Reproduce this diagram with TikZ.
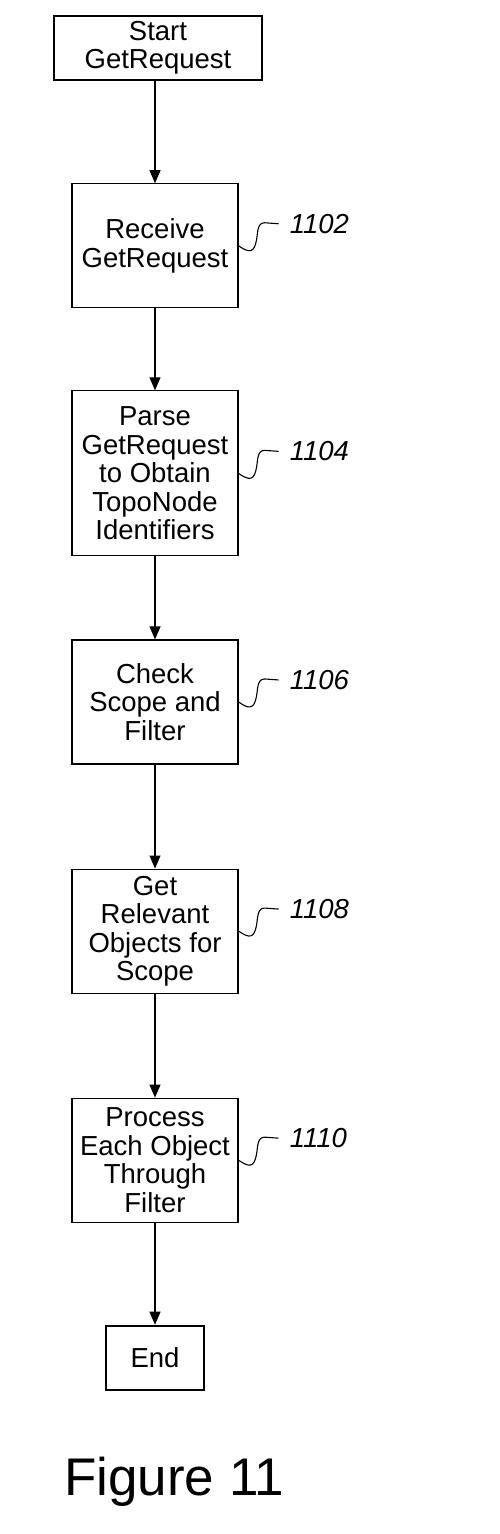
\documentclass[tikz,border=0pt]{standalone}
\usepackage{fontspec}
\setmainfont{Liberation Sans}
\usetikzlibrary{arrows.meta,positioning}

\begin{document}
\begin{tikzpicture}[
  x=1pt, y=1pt,
  node distance=102pt,
  stepbox/.style={draw, line width=1.1pt, minimum width=166pt, minimum height=124pt, align=center, font=\fontsize{27.5}{28.5}\selectfont, inner sep=2pt},
  termbox/.style={draw, line width=2.4pt, minimum height=64pt, align=center, font=\fontsize{27.5}{28}\selectfont, inner sep=2pt},
  refno/.style={font=\fontsize{27.5}{28}\selectfont\itshape, inner sep=0pt, anchor=west},
  flow/.style={-{Triangle[length=13pt,width=11pt]}, line width=1.1pt},
  squig/.style={line width=1.1pt}
]
\useasboundingbox (0,0) rectangle (499,-1534);
\node[termbox, minimum width=208pt] (start) at (158,-48) {Start\\GetRequest};
\node[stepbox, below=102pt of start, xshift=-3pt] (rcv) {Receive\\GetRequest};
\node[stepbox, below=82pt of rcv, minimum height=165pt] (parse) {Parse\\GetRequest\\to Obtain\\TopoNode\\Identifiers};
\node[stepbox, below=83pt of parse] (check) {Check\\Scope and\\Filter};
\node[stepbox, below=104pt of check] (getobj) {Get\\Relevant\\Objects for\\Scope};
\node[stepbox, below=104pt of getobj] (proc) {Process\\Each Object\\Through\\Filter};
\node[termbox, minimum width=98pt, below=102pt of proc] (end) {End};
\node[font=\fontsize{53}{53}\selectfont, inner sep=0pt, anchor=base west] (fig) at (64,-1495) {Figure 11};
% reference numerals
\node[refno] (n1102) at ([xshift=51pt,yshift=22pt]rcv.east) {1102};
\node[refno] (n1104) at ([xshift=51pt,yshift=22pt]parse.east) {1104};
\node[refno] (n1106) at ([xshift=51pt,yshift=22pt]check.east) {1106};
\node[refno] (n1108) at ([xshift=51pt,yshift=22pt]getobj.east) {1108};
\node[refno] (n1110) at ([xshift=51pt,yshift=22pt]proc.east) {1110};
\draw[squig] (rcv.east) to[out=-35,in=-100,looseness=1.8] ++(18,6) to[out=80,in=180] ++(8,17) -- ([xshift=-11pt]n1102.west);
\draw[squig] (parse.east) to[out=-35,in=-100,looseness=1.8] ++(18,6) to[out=80,in=180] ++(8,17) -- ([xshift=-11pt]n1104.west);
\draw[squig] (check.east) to[out=-35,in=-100,looseness=1.8] ++(18,6) to[out=80,in=180] ++(8,17) -- ([xshift=-11pt]n1106.west);
\draw[squig] (getobj.east) to[out=-35,in=-100,looseness=1.8] ++(18,6) to[out=80,in=180] ++(8,17) -- ([xshift=-11pt]n1108.west);
\draw[squig] (proc.east) to[out=-35,in=-100,looseness=1.8] ++(18,6) to[out=80,in=180] ++(8,17) -- ([xshift=-11pt]n1110.west);
% flow
\draw[flow] (rcv |- start.south) -- (rcv);
\draw[flow] (rcv) -- (parse);
\draw[flow] (parse) -- (check);
\draw[flow] (check) -- (getobj);
\draw[flow] (getobj) -- (proc);
\draw[flow] (proc) -- (end);
\end{tikzpicture}
\end{document}
